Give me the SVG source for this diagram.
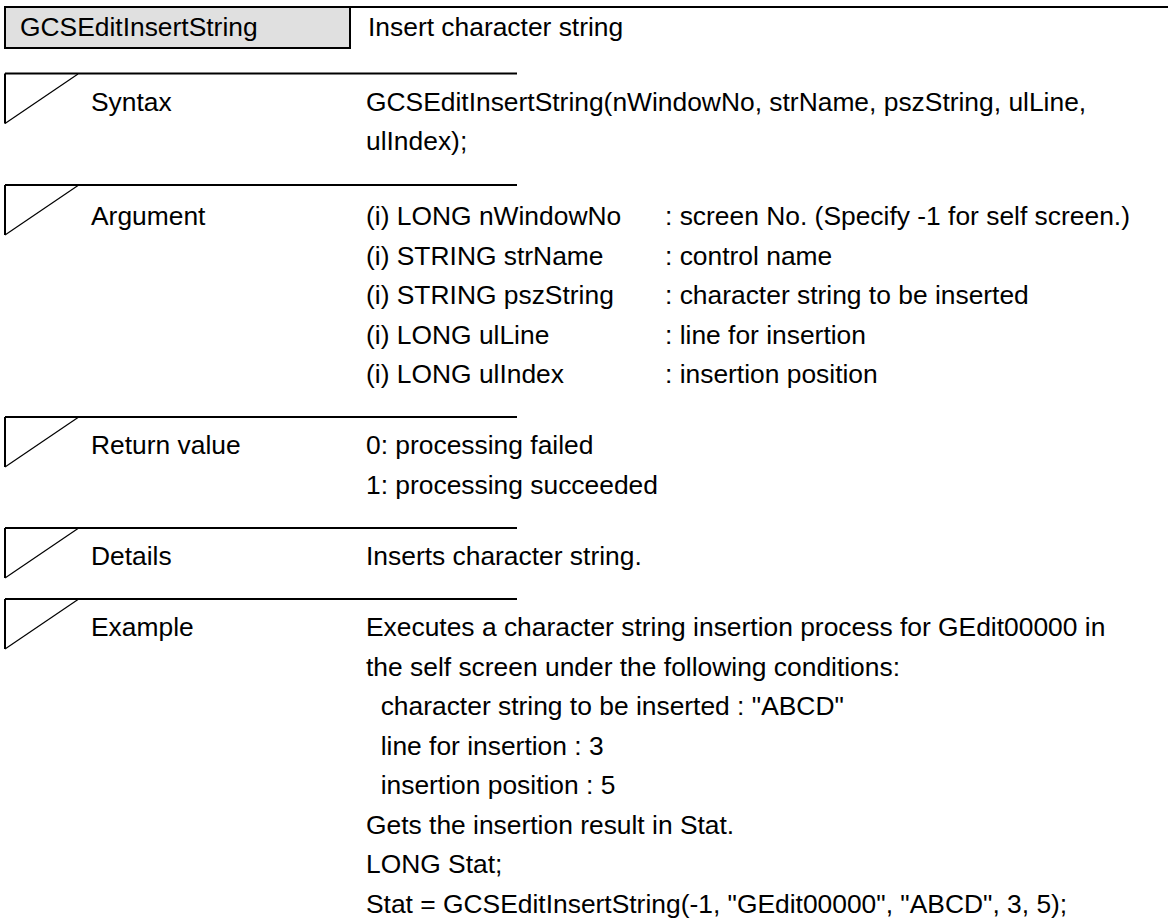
<svg xmlns="http://www.w3.org/2000/svg" width="1169" height="922" viewBox="0 0 1169 922">
  <style>
    text { font-family: "Liberation Sans", Arial, sans-serif; font-size: 26.4px; fill: #000; }
    .rule { stroke: #000; stroke-width: 2.2; fill: none; }
    .side { stroke: #000; stroke-width: 2; fill: none; }
    .diag { stroke: #000; stroke-width: 1.2; fill: none; }
    .hdr { fill: #e0e0e0; stroke: #000; stroke-width: 2; }
  </style>
  <defs>
    <g id="marker">
      <line class="rule" x1="5" y1="0" x2="517" y2="0"/>
      <line class="side" x1="5" y1="0" x2="5" y2="50"/>
      <line class="diag" x1="5" y1="50" x2="78" y2="0.5"/>
    </g>
  </defs>
  <rect width="1169" height="922" fill="#fff"/>

  <g id="header">
    <line class="rule" x1="5" y1="7" x2="1168" y2="7"/>
    <rect class="hdr" x="5" y="7" width="345" height="41"/>
    <text x="20" y="36">GCSEditInsertString</text>
    <text x="368" y="36">Insert character string</text>
  </g>

  <g id="syntax">
    <use href="#marker" y="73.5"/>
    <text x="91" y="110.5">Syntax</text>
    <text x="366" y="110.5">GCSEditInsertString(nWindowNo, strName, pszString, ulLine,</text>
    <text x="366" y="150">ulIndex);</text>
  </g>

  <g id="argument">
    <use href="#marker" y="185"/>
    <text x="91" y="225">Argument</text>
    <text x="366" y="225">(i) LONG nWindowNo</text>
    <text x="665" y="225">: screen No. (Specify -1 for self screen.)</text>
    <text x="366" y="264.5">(i) STRING strName</text>
    <text x="665" y="264.5">: control name</text>
    <text x="366" y="304">(i) STRING pszString</text>
    <text x="665" y="304">: character string to be inserted</text>
    <text x="366" y="343.5">(i) LONG ulLine</text>
    <text x="665" y="343.5">: line for insertion</text>
    <text x="366" y="383">(i) LONG ulIndex</text>
    <text x="665" y="383">: insertion position</text>
  </g>

  <g id="return-value">
    <use href="#marker" y="417"/>
    <text x="91" y="454">Return value</text>
    <text x="366" y="454">0: processing failed</text>
    <text x="366" y="493.5">1: processing succeeded</text>
  </g>

  <g id="details">
    <use href="#marker" y="528"/>
    <text x="91" y="565">Details</text>
    <text x="366" y="565">Inserts character string.</text>
  </g>

  <g id="example">
    <use href="#marker" y="599"/>
    <text x="91" y="636">Example</text>
    <text x="366" y="636">Executes a character string insertion process for GEdit00000 in</text>
    <text x="366" y="675.5">the self screen under the following conditions:</text>
    <text x="366" y="715" xml:space="preserve">  character string to be inserted : "ABCD"</text>
    <text x="366" y="754.5" xml:space="preserve">  line for insertion : 3</text>
    <text x="366" y="794" xml:space="preserve">  insertion position : 5</text>
    <text x="366" y="833.5">Gets the insertion result in Stat.</text>
    <text x="366" y="873">LONG Stat;</text>
    <text x="366" y="912.5">Stat = GCSEditInsertString(-1, "GEdit00000", "ABCD", 3, 5);</text>
  </g>
</svg>
